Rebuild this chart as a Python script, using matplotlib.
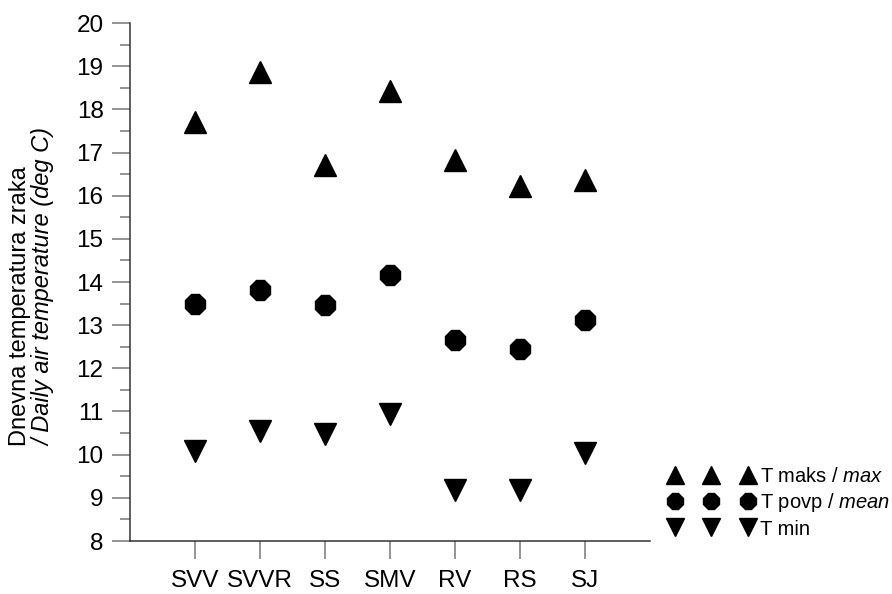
import matplotlib
matplotlib.use("Agg")
import matplotlib.pyplot as plt
from matplotlib.ticker import MultipleLocator

plt.rcParams['font.family'] = ['Liberation Sans', 'DejaVu Sans']
plt.rcParams['mathtext.fontset'] = 'custom'
plt.rcParams['mathtext.rm'] = 'Liberation Sans'
plt.rcParams['mathtext.it'] = 'Liberation Sans:italic'

# data
sites = ["SVV", "SVVR", "SS", "SMV", "RV", "RS", "SJ"]
t_max = [17.70, 18.86, 16.70, 18.42, 16.83, 16.23, 16.37]
t_mean = [13.49, 13.82, 13.47, 14.17, 12.65, 12.45, 13.13]
t_min = [10.09, 10.55, 10.49, 10.94, 9.18, 9.18, 10.05]
legend_labels = [r"T maks / $\it{max}$", r"T povp / $\it{mean}$", "T min"]

W, H = 892, 594
fig = plt.figure(figsize=(W / 100, H / 100), dpi=100)
ax = fig.add_axes([130 / W, 1 - 541 / H, (650 - 130) / W, (541 - 23) / H])

x = list(range(1, len(sites) + 1))
ax.plot(x, t_max, ls='none', marker='^', ms=16, color='black', label=legend_labels[0])
ax.plot(x, t_mean, ls='none', marker='8', ms=15, color='black', label=legend_labels[1])
ax.plot(x, t_min, ls='none', marker='v', ms=16, color='black', label=legend_labels[2])

ax.set_xlim(0, 8)
ax.set_ylim(8, 20)
ax.set_xticks(x)
ax.set_xticklabels(sites)
ax.yaxis.set_major_locator(MultipleLocator(1))
ax.yaxis.set_minor_locator(MultipleLocator(0.5))

for s in ['top', 'right']:
    ax.spines[s].set_visible(False)
for s in ['left', 'bottom']:
    ax.spines[s].set_color('#333333')
    ax.spines[s].set_linewidth(1.1)

ax.tick_params(axis='both', which='major', direction='out', length=13, width=1.1,
               color='#777777', labelsize=17.5, pad=6)
ax.tick_params(axis='y', which='minor', direction='out', length=7.5, width=1.1, color='#777777')
ax.tick_params(axis='x', which='major', pad=8)

fig.text(20 / W, 1 - 446 / H, "Dnevna temperatura zraka", rotation=90,
         ha='center', va='bottom', fontsize=17)
fig.text(44 / W, 1 - 446 / H, "/ Daily air temperature (deg C)", rotation=90,
         ha='center', va='bottom', fontsize=17, style='italic')

leg = fig.legend(loc='center left', bbox_to_anchor=(669 / W, 1 - 503 / H),
                 bbox_transform=fig.transFigure, numpoints=3, frameon=False,
                 fontsize=14.5, markerscale=0.85, handlelength=4.2, handletextpad=0.3,
                 labelspacing=0.25, borderpad=0, borderaxespad=0)

fig.savefig("out.png", dpi=100)
